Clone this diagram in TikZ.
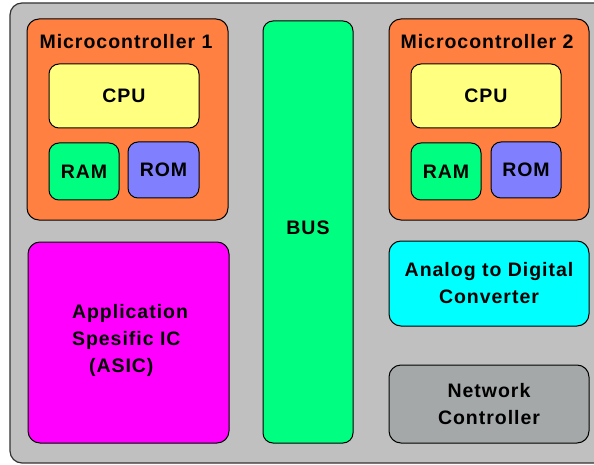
\documentclass[tikz,border=0pt]{standalone}
\usepackage{fontspec}
\setmainfont{Liberation Sans}[LetterSpace=5]
\begin{document}
\begin{tikzpicture}[x=1pt,y=-1pt,
  blk/.style={draw=black, line width=1pt, rounded corners=10pt, inner sep=0pt,
    align=center, font=\fontsize{19.5}{27}\selectfont\bfseries},
  lbl/.style={inner sep=0pt, align=center, font=\fontsize{19.5}{27}\selectfont\bfseries}]
\useasboundingbox (0,0) rectangle (594,465);
\clip (0,0) rectangle (594,465);
% board
\draw[fill={rgb,255:red,192;green,192;blue,192}, line width=1.2pt, draw=black!80, rounded corners=12pt]
  (10,3) rectangle (606,463);
% microcontroller 1
\node[blk, fill={rgb,255:red,255;green,128;blue,64}, minimum width=201pt, minimum height=201pt, rounded corners=12pt] (mc1) at (127.5,119.5) {};
\node[lbl] (mc1t) at (126,42) {Microcontroller 1};
\node[blk, fill={rgb,255:red,255;green,255;blue,128}, minimum width=150pt, minimum height=64pt] (cpu1) at (124,96) {CPU};
\node[blk, fill={rgb,255:red,0;green,255;blue,128}, minimum width=70pt, minimum height=57pt] (ram1) at (84,171.5) {RAM};
\node[blk, fill={rgb,255:red,128;green,128;blue,255}, minimum width=71pt, minimum height=56pt] (rom1) at (163.5,170) {ROM};
% bus
\node[blk, fill={rgb,255:red,0;green,255;blue,128}, minimum width=90pt, minimum height=422pt] (bus) at (308,232) {};
\node[lbl] (bust) at (308,228) {BUS};
% microcontroller 2
\node[blk, fill={rgb,255:red,255;green,128;blue,64}, minimum width=200pt, minimum height=201pt, rounded corners=12pt] (mc2) at (489,119.5) {};
\node[lbl] (mc2t) at (487,42) {Microcontroller 2};
\node[blk, fill={rgb,255:red,255;green,255;blue,128}, minimum width=150pt, minimum height=64pt] (cpu2) at (486,96) {CPU};
\node[blk, fill={rgb,255:red,0;green,255;blue,128}, minimum width=70pt, minimum height=57pt] (ram2) at (446,171.5) {RAM};
\node[blk, fill={rgb,255:red,128;green,128;blue,255}, minimum width=70pt, minimum height=56pt] (rom2) at (526,170) {ROM};
% ASIC
\node[blk, fill={rgb,255:red,255;green,0;blue,255}, minimum width=201pt, minimum height=201pt, rounded corners=12pt] (asic) at (128.5,342.5) {};
\node[lbl, align=left] (asict) at (130,340) {Application\\Spesific IC\\\hspace*{17pt}(ASIC)};
% ADC
\node[blk, fill={rgb,255:red,0;green,255;blue,255}, minimum width=200pt, minimum height=85pt, rounded corners=12pt] (adc) at (489,283.5) {Analog to Digital\\Converter};
% network controller
\node[blk, fill={rgb,255:red,164;green,168;blue,168}, minimum width=200pt, minimum height=78pt, rounded corners=12pt] (net) at (489,404) {Network\\Controller};
\end{tikzpicture}
\end{document}
